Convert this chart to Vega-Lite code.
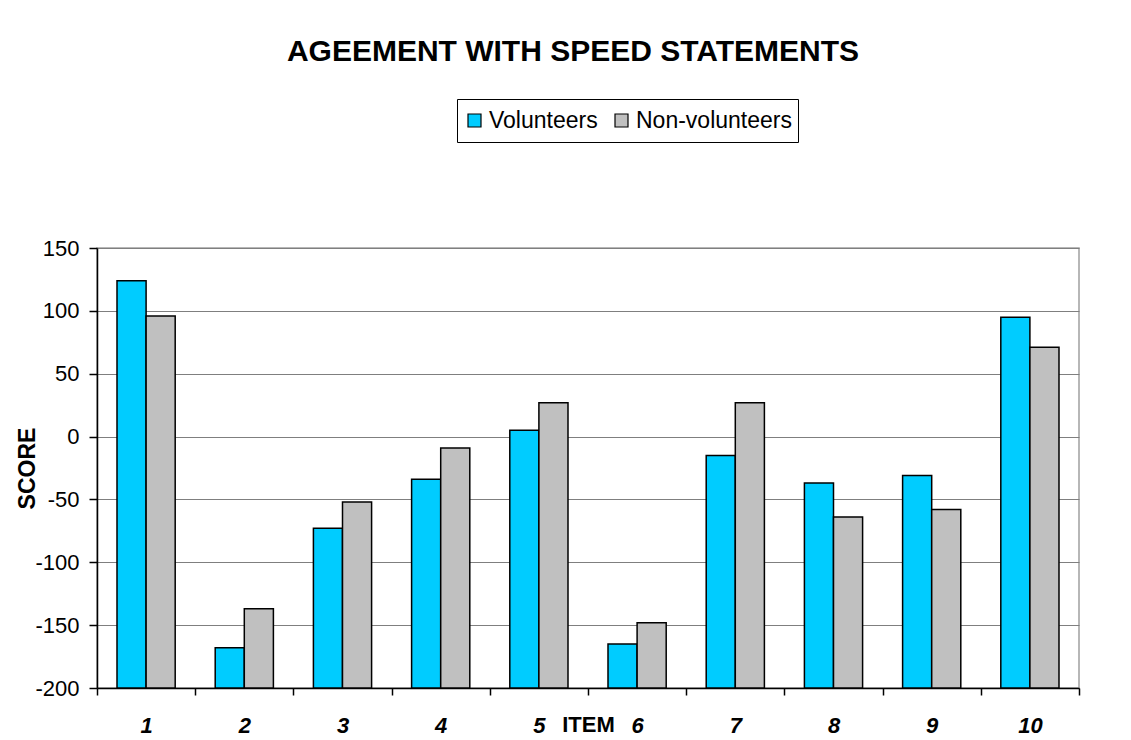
{
  "$schema": "https://vega.github.io/schema/vega-lite/v6.json",
  "width": 982,
  "height": 440,
  "autosize": {"type": "none"},
  "padding": {"left": 97, "top": 248, "right": 52, "bottom": 52},
  "background": "white",
  "config": {
    "font": "Liberation Sans",
    "view": {"stroke": "#a0a0a0", "strokeWidth": 1.5}
  },
  "title": {
    "text": "AGEEMENT WITH SPEED STATEMENTS",
    "font": "Liberation Sans",
    "fontSize": 30,
    "fontWeight": "bold",
    "color": "black",
    "anchor": "middle",
    "frame": "group",
    "baseline": "alphabetic",
    "offset": 8,
    "dx": -15
  },
  "data": {
    "values": [
      {"item": 1, "group": "Volunteers", "score": 124},
      {"item": 1, "group": "Non-volunteers", "score": 96},
      {"item": 2, "group": "Volunteers", "score": -168},
      {"item": 2, "group": "Non-volunteers", "score": -137},
      {"item": 3, "group": "Volunteers", "score": -73},
      {"item": 3, "group": "Non-volunteers", "score": -52},
      {"item": 4, "group": "Volunteers", "score": -34},
      {"item": 4, "group": "Non-volunteers", "score": -9},
      {"item": 5, "group": "Volunteers", "score": 5},
      {"item": 5, "group": "Non-volunteers", "score": 27},
      {"item": 6, "group": "Volunteers", "score": -165},
      {"item": 6, "group": "Non-volunteers", "score": -148},
      {"item": 7, "group": "Volunteers", "score": -15},
      {"item": 7, "group": "Non-volunteers", "score": 27},
      {"item": 8, "group": "Volunteers", "score": -37},
      {"item": 8, "group": "Non-volunteers", "score": -64},
      {"item": 9, "group": "Volunteers", "score": -31},
      {"item": 9, "group": "Non-volunteers", "score": -58},
      {"item": 10, "group": "Volunteers", "score": 95},
      {"item": 10, "group": "Non-volunteers", "score": 71}
    ]
  },
  "mark": {"type": "bar", "stroke": "black", "strokeWidth": 1.5},
  "encoding": {
    "x": {
      "field": "item",
      "type": "ordinal",
      "scale": {"paddingInner": 0, "paddingOuter": 0},
      "axis": {
        "title": "ITEM",
        "titleFont": "Liberation Sans",
        "titleFontSize": 22,
        "titleFontWeight": "bold",
        "titleColor": "black",
        "titleX": 491,
        "titleY": 43,
        "titleBaseline": "alphabetic",
        "titleAlign": "center",
        "labelAngle": 0,
        "labelFont": "Liberation Sans",
        "labelFontSize": 22,
        "labelFontWeight": "bold",
        "labelFontStyle": "italic",
        "labelColor": "black",
        "labelBaseline": "alphabetic",
        "labelPadding": 37,
        "tickBand": "extent",
        "tickSize": 7,
        "tickColor": "black",
        "tickWidth": 1.5,
        "domainColor": "black",
        "domainWidth": 1.5,
        "grid": false
      }
    },
    "xOffset": {
      "field": "group",
      "type": "nominal",
      "sort": ["Volunteers", "Non-volunteers"],
      "scale": {"paddingInner": 0, "paddingOuter": 0.6875}
    },
    "y": {
      "field": "score",
      "type": "quantitative",
      "scale": {"domain": [-200, 150], "nice": false, "zero": false},
      "axis": {
        "values": [-200, -150, -100, -50, 0, 50, 100, 150],
        "labelExpr": "datum.value + ''",
        "title": "SCORE",
        "titleFont": "Liberation Sans",
        "titleFontSize": 23,
        "titleFontWeight": "bold",
        "titleColor": "black",
        "titleAngle": 270,
        "titleX": -69.5,
        "titleY": 220,
        "titleAlign": "center",
        "titleBaseline": "middle",
        "labelFont": "Liberation Sans",
        "labelFontSize": 22,
        "labelColor": "black",
        "labelPadding": 10,
        "tickSize": 8,
        "tickColor": "black",
        "tickWidth": 1.5,
        "domainColor": "black",
        "domainWidth": 1.5,
        "grid": true,
        "gridColor": "#7f7f7f",
        "gridWidth": 1.2
      }
    },
    "y2": {"datum": -200},
    "color": {
      "field": "group",
      "type": "nominal",
      "scale": {"domain": ["Volunteers", "Non-volunteers"], "range": ["#00CCFF", "#C0C0C0"]},
      "legend": {
        "title": null,
        "orient": "none",
        "legendX": 360,
        "legendY": -149,
        "direction": "horizontal",
        "strokeColor": "black",
        "padding": 6,
        "clipHeight": 31,
        "symbolType": "square",
        "symbolSize": 169,
        "symbolStrokeColor": "black",
        "symbolStrokeWidth": 1.2,
        "symbolOpacity": 1,
        "labelFont": "Liberation Sans",
        "labelFontSize": 23,
        "labelColor": "black",
        "labelOffset": 3,
        "columnPadding": 12
      }
    }
  }
}
